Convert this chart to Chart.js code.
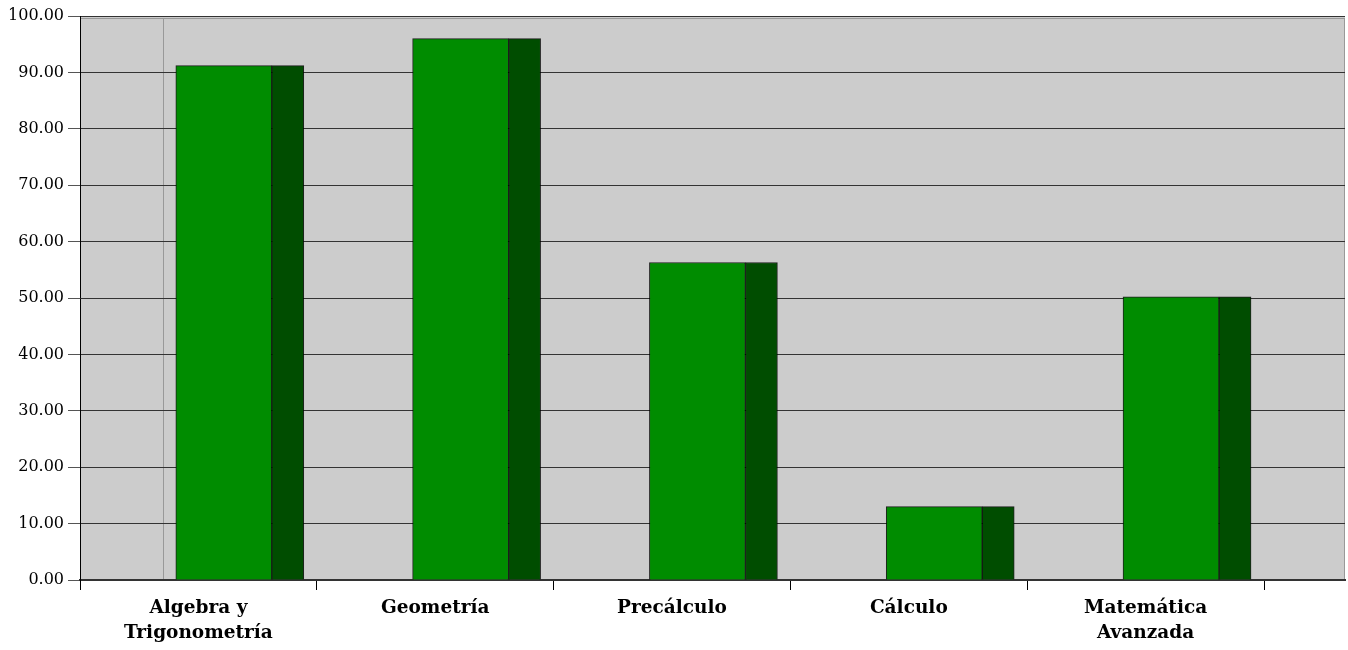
<!DOCTYPE html>
<html>
<head>
<meta charset="utf-8">
<script src="https://cdn.jsdelivr.net/npm/chart.js@4"></script>
<style>
  html, body { margin: 0; padding: 0; background: #fff; }
  #wrap { width: 1348px; height: 650px; }
</style>
</head>
<body>
<div id="wrap"><canvas id="grafico"></canvas></div>
<script>
// datos del gráfico
const categorias = [
    ['Algebra y', 'Trigonometría'],
    ['Geometría'],
    ['Precálculo'],
    ['Cálculo'],
    ['Matemática', 'Avanzada']
];
const valores = [91.2, 96.0, 56.3, 13.0, 50.2];
const ticksY = [0, 10, 20, 30, 40, 50, 60, 70, 80, 90, 100];

// desplazamiento del efecto 3D (en unidades de categoría)
const desplazamiento = 0.81;
const maxX = 5.342;

const puntos = valores.map((v, i) => ({ x: i + desplazamiento, y: v }));

// fondo gris del área del gráfico + línea vertical
const fondo = {
    id: 'fondo',
    beforeDraw(chart) {
        const { ctx, chartArea: a, scales } = chart;
        ctx.save();
        ctx.fillStyle = '#cccccc';
        ctx.fillRect(a.left, a.top, a.right - a.left, a.bottom - a.top);
        ctx.strokeStyle = '#999999';
        ctx.lineWidth = 1;
        ctx.strokeRect(a.left + 0.5, a.top + 2.5, a.right - a.left - 1, a.bottom - a.top - 2);
        const xv = Math.round(scales.x.getPixelForValue(0.35)) + 0.5;
        ctx.beginPath();
        ctx.moveTo(xv, a.top + 2);
        ctx.lineTo(xv, a.bottom);
        ctx.stroke();
        ctx.restore();
    }
};

document.addEventListener('DOMContentLoaded', function () {
    const ctx = document.getElementById('grafico').getContext('2d');
    new Chart(ctx, {
        type: 'bar',
        data: {
            datasets: [{
                label: 'frente',
                data: puntos,
                backgroundColor: '#008c00',
                borderColor: 'rgba(0,0,0,0.85)',
                borderWidth: 1,
                barThickness: 96
            },
            {
                label: 'lado',
                data: puntos,
                backgroundColor: '#004d00',
                borderColor: 'rgba(0,0,0,0.85)',
                borderWidth: 1,
                barThickness: 32
            }]
        },
        options: {
            responsive: true,
            maintainAspectRatio: false,
            animation: false,
            layout: { padding: { top: 16, right: 3, left: 0, bottom: 0 } },
            plugins: { legend: { display: false }, tooltip: { enabled: false } },
            scales: {
                x: {
                    type: 'linear',
                    offset: false,
                    min: 0,
                    max: maxX,
                    afterBuildTicks: (scale) => {
                        const t = [];
                        for (let i = 0; i <= categorias.length * 2; i++) t.push({ value: i / 2 });
                        scale.ticks = t;
                    },
                    afterFit: (scale) => { scale.height = 70; },
                    grid: {
                        offset: false,
                        drawOnChartArea: false,
                        tickLength: 10,
                        tickColor: (c) => (c.tick && c.tick.value % 1 === 0) ? '#000' : 'transparent'
                    },
                    border: { color: '#333', width: 2 },
                    ticks: {
                        autoSkip: false,
                        maxRotation: 0,
                        padding: 6,
                        color: '#000',
                        font: { family: 'DejaVu Serif', size: 18.5, weight: 'bold', lineHeight: 1.35 },
                        callback: (v) => (v % 1 !== 0) ? categorias[Math.floor(v)] : ''
                    }
                },
                y: {
                    min: 0,
                    max: 100,
                    afterBuildTicks: (scale) => { scale.ticks = ticksY.map(v => ({ value: v })); },
                    afterFit: (scale) => { scale.width = 80; },
                    grid: { color: '#333', tickColor: '#555', tickLength: 12 },
                    border: { color: '#000', width: 1 },
                    ticks: {
                        padding: 4,
                        color: '#000',
                        font: { family: 'DejaVu Serif', size: 16 },
                        callback: (v) => v.toFixed(2)
                    }
                }
            }
        },
        plugins: [fondo]
    });
});
</script>
</body>
</html>
